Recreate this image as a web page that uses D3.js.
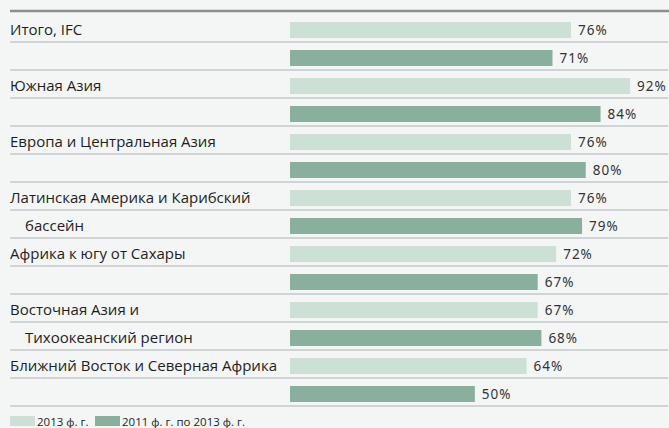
<!DOCTYPE html>
<html>
<head>
<meta charset="utf-8">
<script src="https://cdn.jsdelivr.net/npm/d3@7"></script>
<style>
  body { margin: 0; background: #f3f6f5; }
  svg { display: block; }
</style>
</head>
<body>
<div class="canva"></div>
<script>
// data
const regions = [
  ["Итого, IFC"],
  ["Южная Азия"],
  ["Европа и Центральная Азия"],
  ["Латинская Америка и Карибский", "бассейн"],
  ["Африка к югу от Сахары"],
  ["Восточная Азия и", "Тихоокеанский регион"],
  ["Ближний Восток и Северная Африка"]
];
const fy2013 = [76, 92, 76, 76, 72, 67, 64];
const fy2011to2013 = [71, 84, 80, 79, 67, 68, 50];
const seriesNames = ["2013 ф. г.", "2011 ф. г. по 2013 ф. г."];
const colors = ["#cde0d5", "#88b09d"];

const width = 669, height = 428;

const svg = d3.select(".canva").append("svg")
            .attr("width", width)
            .attr("height", height);

// one row per bar, two bars per region
const rows = [];
regions.forEach((r, i) => {
  rows.push({ key: i + "a", value: fy2013[i], series: 0, label: r[0], indent: 0 });
  rows.push({ key: i + "b", value: fy2011to2013[i], series: 1, label: r[1] || "", indent: 1 });
});

const x = d3.scaleLinear().domain([0, 100]).range([290, 659.7]);
const y = d3.scaleBand().domain(rows.map(d => d.key)).range([14, 14 + rows.length * 28]);

// top rule
svg.append("line")
   .attr("x1", 10).attr("x2", 669)
   .attr("y1", 11).attr("y2", 11)
   .attr("stroke", "#8c8f8e")
   .attr("stroke-width", 2.5);

// row separators
svg.selectAll(".sep")
   .data(rows)
   .enter().append("line")
   .attr("class", "sep")
   .attr("x1", 10).attr("x2", 668)
   .attr("y1", d => y(d.key) + y.bandwidth())
   .attr("y2", d => y(d.key) + y.bandwidth())
   .attr("stroke", "#c6c9c8")
   .attr("stroke-width", 1.5);

// bars
svg.selectAll(".bar")
   .data(rows)
   .enter().append("rect")
   .attr("class", "bar")
   .attr("x", x(0))
   .attr("y", d => y(d.key) + 8)
   .attr("width", d => x(d.value) - x(0))
   .attr("height", 16)
   .attr("fill", d => colors[d.series]);

// value labels
svg.selectAll(".val")
   .data(rows)
   .enter().append("text")
   .attr("class", "val")
   .attr("x", d => x(d.value) + 7)
   .attr("y", d => y(d.key) + 21)
   .attr("font-family", "Noto Sans, sans-serif")
   .attr("font-size", 13.5)
   .attr("letter-spacing", 1)
   .attr("fill", "#333")
   .text(d => d.value + "%");

// category labels
svg.selectAll(".cat")
   .data(rows.filter(d => d.label))
   .enter().append("text")
   .attr("class", "cat")
   .attr("x", d => 10 + d.indent * 15)
   .attr("y", d => y(d.key) + 20.5)
   .attr("font-family", "Open Sans, sans-serif")
   .attr("font-size", 15)
   .attr("fill", "#1e1e1e")
   .text(d => d.label);

// legend
const legend = svg.append("g").attr("transform", "translate(10, 416)");
const lx = [0, 85];
seriesNames.forEach((name, i) => {
  legend.append("rect")
        .attr("x", lx[i]).attr("y", 0)
        .attr("width", 25).attr("height", 10)
        .attr("fill", colors[i]);
  legend.append("text")
        .attr("x", lx[i] + 27).attr("y", 9.5)
        .attr("font-family", "Open Sans, sans-serif")
        .attr("font-size", 11.5)
        .attr("fill", "#1e1e1e")
        .text(name);
});
</script>
</body>
</html>
